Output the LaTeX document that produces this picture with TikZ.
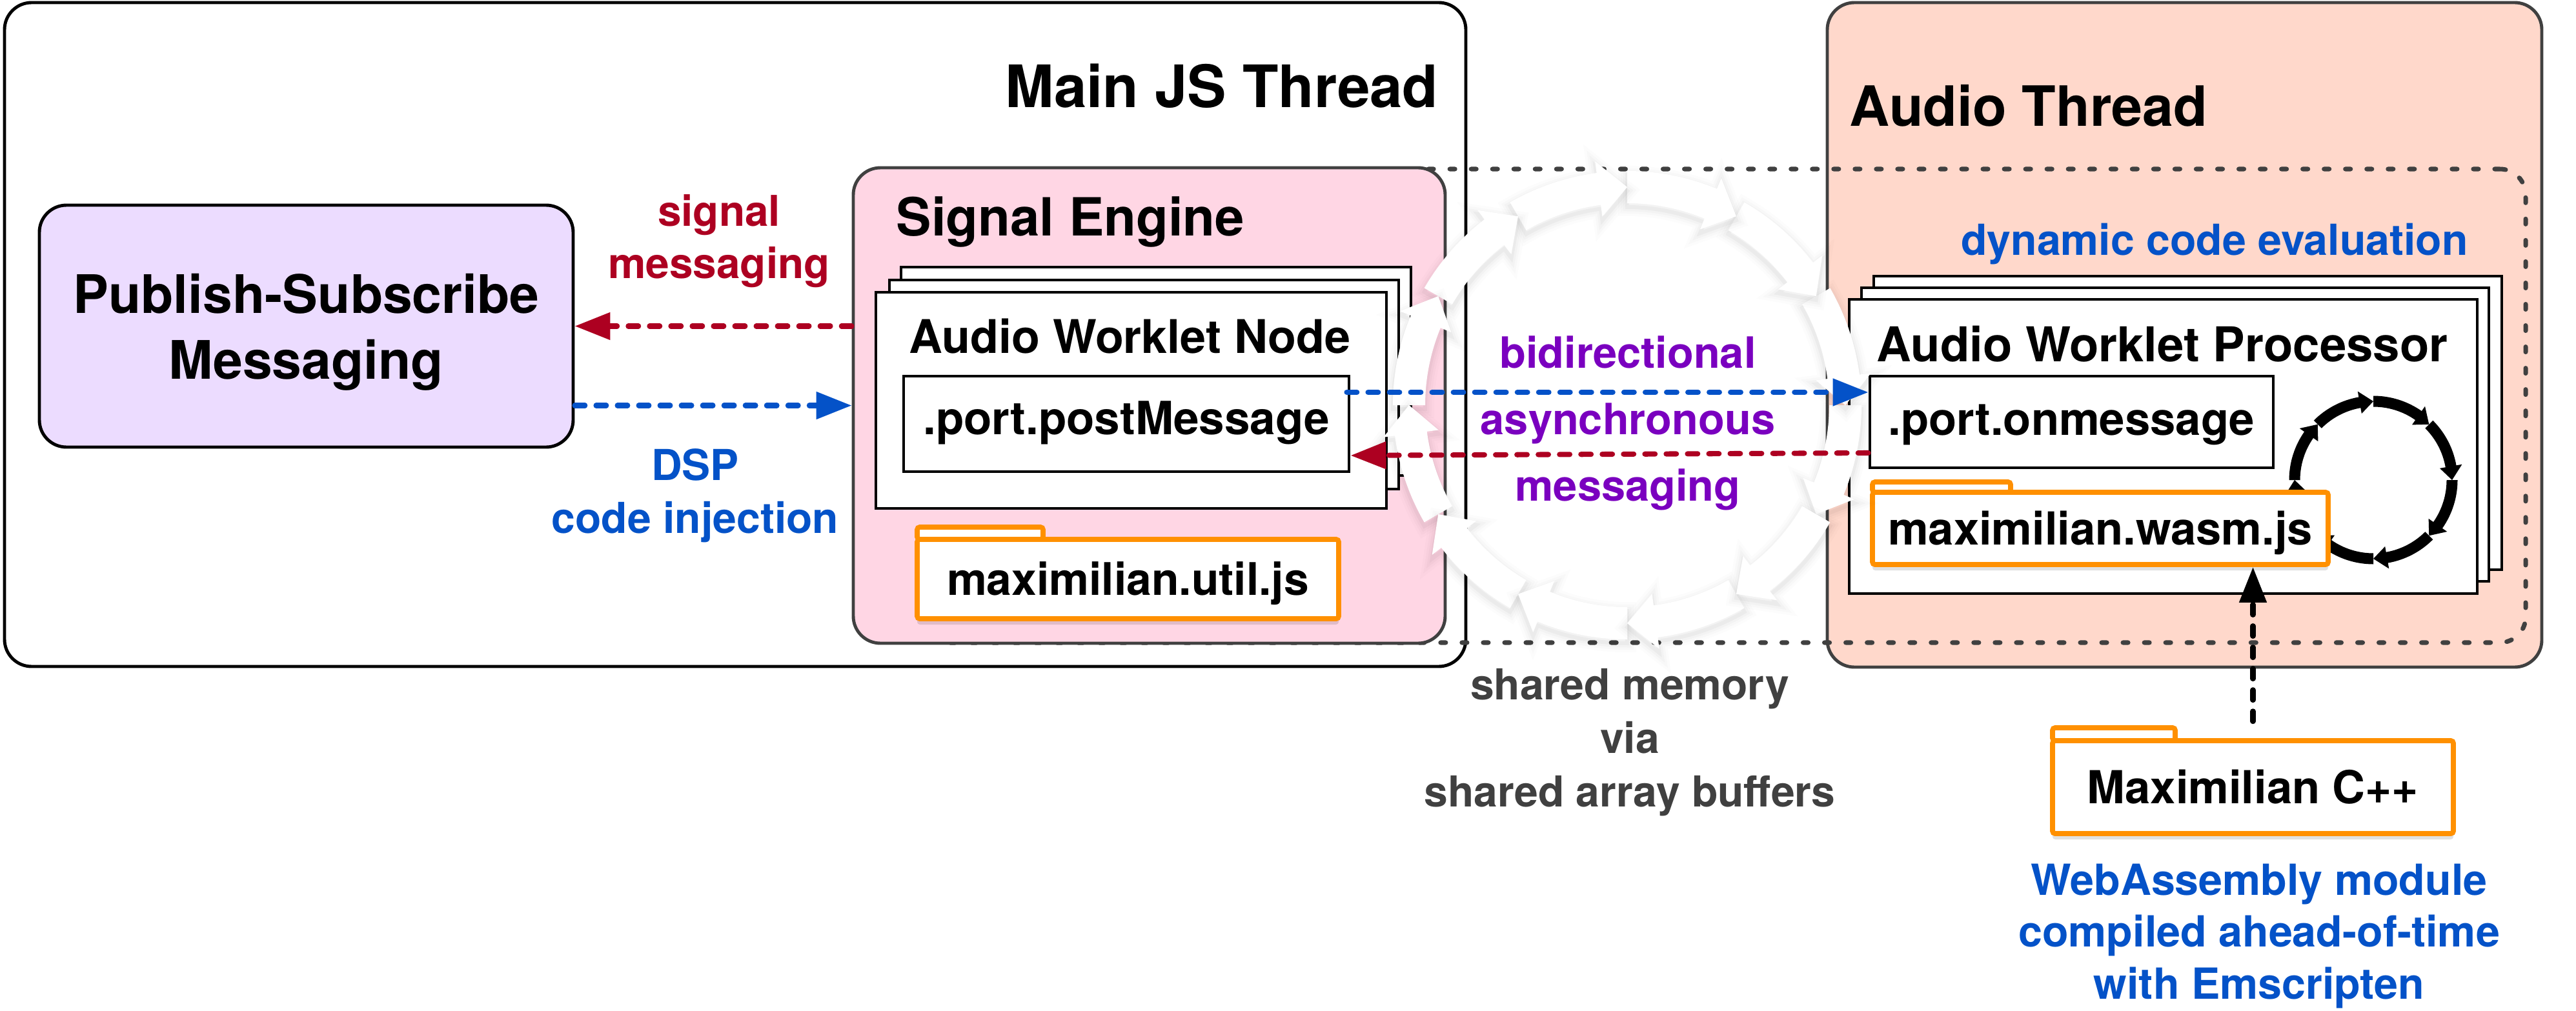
\documentclass[tikz,border=0pt]{standalone}
\usepackage{fontspec}
\setmainfont{TeX Gyre Heros}
\usetikzlibrary{arrows.meta}
\usetikzlibrary{shadows}

\definecolor{sigred}{HTML}{AD0021}
\definecolor{dspblue}{HTML}{0452C8}
\definecolor{filehue}{HTML}{FF9000}
\definecolor{asyncpurple}{HTML}{7A00BF}
\definecolor{edgegray}{HTML}{404040}
\definecolor{enginepink}{HTML}{FFD6E4}
\definecolor{audiopeach}{HTML}{FFD8CB}
\definecolor{pubsubviolet}{HTML}{ECDCFF}

\newcommand{\pxfont}[1]{\fontsize{#1}{#1}\selectfont\bfseries}
\newcommand{\arrowring}[7]{%
	\begin{scope}[shift={(#1)}]
		\pgfmathsetmacro{\rin}{#2-#3}
		\pgfmathsetmacro{\rout}{#2+#3}
		\pgfmathsetmacro{\hin}{#2-#4}
		\pgfmathsetmacro{\hout}{#2+#4}
		\foreach \ang in {0,#6,...,359}{
			\pgfmathsetmacro{\tipang}{\ang-#6}
			\pgfmathsetmacro{\baseang}{\ang-#6+#5}
			\path[#7] (\ang:\rin) arc[start angle=\ang,end angle=\baseang,radius=\rin]
				-- (\baseang:\hin) -- (\tipang:#2) -- (\baseang:\hout) -- (\baseang:\rout)
				arc[start angle=\baseang,end angle=\ang,radius=\rout] -- cycle;
		}
	\end{scope}}

\tikzset{
	threadbox/.style={draw, line width=1.4pt, rounded corners=4.2mm, inner sep=0pt},
	stackbox/.style={draw, fill=white, line width=1.4pt, inner sep=0pt},
	filebox/.style={draw=filehue, fill=white, line width=2.2pt, inner sep=0pt, rounded corners=0.4mm},
	fileshadow/.style={drop shadow={shadow xshift=0cm, shadow yshift=-0.09cm, opacity=.12, fill=black}},
	linkdash/.style={line width=2.3pt, line cap=round, dash pattern=on 4.5pt off 4.9pt},
	freetext/.style={anchor=base, inner sep=0pt, align=center},
	softring/.style={fill=white, line join=round,
		preaction={draw=black, draw opacity=.012, line width=2.8mm, transform canvas={yshift=-.6mm}},
		preaction={draw=black, draw opacity=.016, line width=2mm, transform canvas={yshift=-.6mm}},
		preaction={draw=black, draw opacity=.02, line width=1.3mm, transform canvas={yshift=-.6mm}},
		preaction={draw=black, draw opacity=.03, line width=.6mm, transform canvas={yshift=-.6mm}}},
}

\begin{document}
\begin{tikzpicture}[>={Triangle[length=5.5mm,width=4.1mm]}]
	\useasboundingbox (0,0) rectangle (39.91,15.66);

	% threads
	\node[threadbox, minimum width=22.64cm, minimum height=10.29cm] (mainthread) at (11.39,10.475) {};
	\node[threadbox, draw=edgegray, fill=audiopeach, minimum width=11.07cm, minimum height=10.30cm] (audiothread) at (33.845,10.47) {};
	\node[freetext, font=\pxfont{25.8pt}] (mainlabel) at (18.93,13.99) {Main JS Thread};
	\node[freetext, font=\pxfont{24.5pt}] (audiolabel) at (31.43,13.70) {Audio Thread};

	% dynamic code evaluation
	\node[draw=edgegray, line width=2pt, line cap=round, dash pattern=on 2.3pt off 7.1pt, rounded corners=4mm,
		minimum width=24.93cm, minimum height=7.34cm] (dynframe) at (26.665,9.37) {};
	\node[freetext, font=\pxfont{18.85pt}, text=dspblue] (dynlabel) at (34.31,11.71) {dynamic code evaluation};

	% publish-subscribe
	\node[threadbox, fill=pubsubviolet, minimum width=8.27cm, minimum height=3.75cm, align=center, text height=1.8cm, text depth=.17cm,
		font=\fontsize{23.4pt}{29pt}\selectfont\bfseries] (pubsub) at (4.745,10.605) {Publish-Subscribe\\Messaging};

	% signal engine
	\node[threadbox, draw=edgegray, fill=enginepink, minimum width=9.17cm, minimum height=7.37cm] (engine) at (17.805,9.375) {};
	\node[freetext, font=\pxfont{23.2pt}] (enginelabel) at (16.585,12.01) {Signal Engine};
	\node[stackbox, minimum width=7.90cm, minimum height=3.23cm] (nodeback) at (17.91,9.905) {};
	\node[stackbox, minimum width=7.89cm, minimum height=3.24cm] (nodemid) at (17.725,9.70) {};
	\node[stackbox, minimum width=7.91cm, minimum height=3.35cm] (nodefront) at (17.525,9.455) {};
	\node[freetext, font=\pxfont{20.45pt}] (nodelabel) at (17.505,10.19) {Audio Worklet Node};
	\node[stackbox, minimum width=6.90cm, minimum height=1.48cm, font=\pxfont{20.2pt}, text height=.55cm, text depth=.23cm] (postbox) at (17.45,9.09) {.port.postMessage};
	\node[filebox, minimum width=1.95cm, minimum height=.19cm] (utiltab) at (15.185,7.395) {};
	\node[filebox, fileshadow, minimum width=6.53cm, minimum height=1.23cm, font=\pxfont{19.8pt}, text height=.6cm, text depth=.11cm] (utilfile) at (17.475,6.685) {maximilian.util.js};

	% audio worklet processor
	\node[stackbox, minimum width=9.73cm, minimum height=4.55cm] (procback) at (33.895,9.105) {};
	\node[stackbox, minimum width=9.72cm, minimum height=4.55cm] (procmid) at (33.70,8.925) {};
	\node[stackbox, minimum width=9.73cm, minimum height=4.56cm] (procfront) at (33.515,8.74) {};
	\node[freetext, font=\pxfont{21.15pt}] (proclabel) at (33.50,10.05) {Audio Worklet Processor};
	\node[stackbox, minimum width=6.25cm, minimum height=1.42cm, font=\pxfont{20.1pt}, text height=.55cm, text depth=.15cm] (onmsg) at (32.095,9.12) {.port.onmessage};
	\arrowring{36.77,8.22}{1.22}{.085}{.175}{10}{45}{fill=black}
	\node[filebox, minimum width=2.14cm, minimum height=.16cm] (wasmtab) at (30.08,8.11) {};
	\node[filebox, fileshadow, minimum width=7.06cm, minimum height=1.12cm, font=\pxfont{20.05pt}, text height=.6cm, text depth=.1cm] (wasmfile) at (32.54,7.47) {maximilian.wasm.js};

	% shared memory
	\arrowring{25.21,9.38}{3.38}{.25}{.43}{7.5}{30}{softring}
	\node[freetext, font=\fontsize{18.8pt}{23.6pt}\selectfont\bfseries, text=edgegray] (memlabel) at (25.25,3.16) {shared memory\\via\\shared array buffers};
	\node[freetext, font=\fontsize{19pt}{29.3pt}\selectfont\bfseries, text=asyncpurple] (asynclabel) at (25.22,7.90) {bidirectional\\asynchronous\\messaging};

	% messages
	\node[freetext, font=\fontsize{18.7pt}{23pt}\selectfont\bfseries, text=sigred] (siglabel) at (11.14,11.35) {signal\\messaging};
	\node[freetext, font=\fontsize{18.8pt}{23.3pt}\selectfont\bfseries, text=dspblue] (dsplabel) at (10.77,7.40) {DSP\\code injection};
	\draw[->, linkdash, sigred] (engine.west |- pubsub.east) -- (pubsub.east);
	\draw[->, linkdash, dspblue] (pubsub.east |- engine.west) -- (engine.west);
	\draw[->, linkdash, dspblue] ([yshift=.49cm,xshift=-.06cm]postbox.east) -- ([yshift=.46cm]onmsg.west);
	\draw[->, linkdash, sigred] ([yshift=-.48cm]onmsg.west) -- ([yshift=-.49cm]postbox.east);

	% maximilian
	\node[filebox, minimum width=1.90cm, minimum height=.20cm] (cpptab) at (32.75,4.28) {};
	\node[filebox, fileshadow, minimum width=6.21cm, minimum height=1.44cm, font=\pxfont{20.05pt}, text height=.6cm, text depth=.1cm] (cppfile) at (34.905,3.46) {Maximilian C++};
	\draw[->, linkdash] ([yshift=.26cm]cppfile.north) -- (cppfile.north |- wasmfile.south);
	\node[freetext, font=\fontsize{18.9pt}{22.8pt}\selectfont\bfseries, text=dspblue] (wasmlabel) at (35.0,0.18) {WebAssembly module\\compiled ahead-of-time\\with Emscripten};
\end{tikzpicture}
\end{document}
